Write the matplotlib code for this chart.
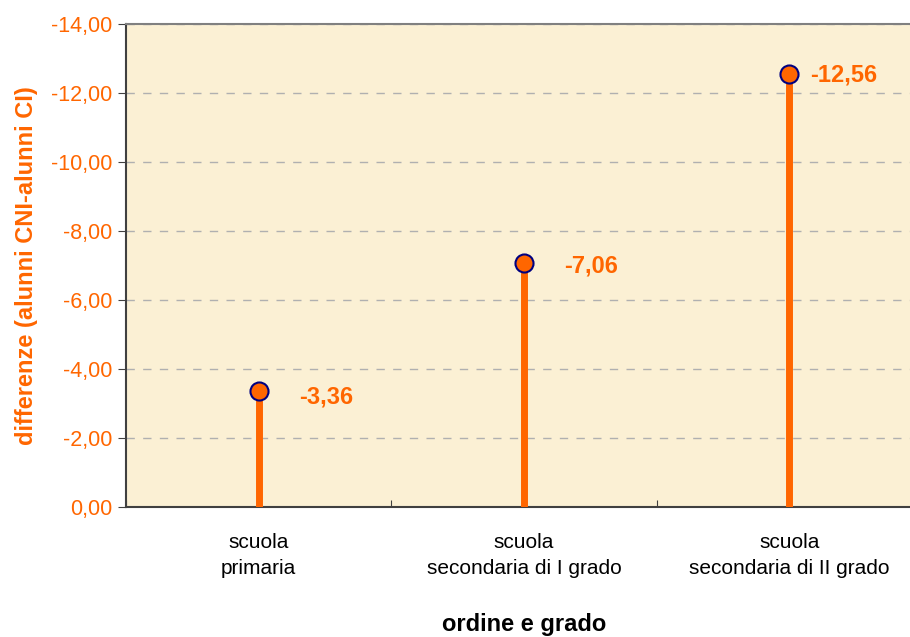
import matplotlib.pyplot as plt

plt.rcParams['font.family'] = ['Liberation Sans', 'DejaVu Sans']

# dati
categorie = ['scuola\nprimaria', 'scuola\nsecondaria di I grado', 'scuola\nsecondaria di II grado']
differenze = [-3.36, -7.06, -12.56]
etichette = ['-3,36', '-7,06', '-12,56']
yticks = [0, -2, -4, -6, -8, -10, -12, -14]

ARANCIO = '#FF6600'
BLU = '#000080'

# spostamento etichette (punti)
offs = [(29, -4), (29, -1.5), (15, -1)]

fig = plt.figure(figsize=(9.1, 6.37), dpi=100)
ax = fig.add_axes([126 / 910, 1 - 507 / 637, 796 / 910, 483 / 637])
ax.set_facecolor('#FBF0D4')

x = range(len(categorie))
ax.vlines(x, 0, differenze, color=ARANCIO, lw=5, zorder=3)
ax.plot(x, differenze, 'o', ms=13, mfc=ARANCIO, mec=BLU, mew=1.5, zorder=4)
for xi, v, t, o in zip(x, differenze, etichette, offs):
    ax.annotate(t, (xi, v), xytext=o, textcoords='offset points',
                color=ARANCIO, fontsize=17, fontweight='bold', va='center', ha='left')

ax.set_xlim(-0.5, 2.5)
ax.set_ylim(0, -14)
ax.set_yticks(yticks)
ax.set_yticklabels([('%.2f' % v).replace('.', ',') for v in yticks])
ax.tick_params(axis='y', colors='#404040', labelcolor=ARANCIO, labelsize=15.5, length=6, pad=4)
ax.yaxis.grid(True, ls=(0, (6, 6)), color='#B0B0B0', lw=1)
ax.set_axisbelow(True)

ax.set_xticks([-0.5, 0.5, 1.5, 2.5])
ax.set_xticklabels([])
ax.set_xticks(list(x), minor=True)
ax.set_xticklabels(categorie, minor=True, fontsize=15, linespacing=1.45)
ax.tick_params(axis='x', which='minor', length=0, pad=19)
ax.tick_params(axis='x', which='major', direction='in', length=5, colors='#404040')

for s in ['left', 'bottom']:
    ax.spines[s].set_color('#404040')
    ax.spines[s].set_linewidth(1.5)
ax.spines['top'].set_color('#808080')
ax.spines['top'].set_linewidth(1.5)
ax.spines['right'].set_visible(False)

ax.set_xlabel('ordine e grado', fontsize=17, fontweight='bold', labelpad=25)
ax.set_ylabel('differenze (alunni CNI-alunni CI)', fontsize=17, fontweight='bold',
              color=ARANCIO)
ax.yaxis.set_label_coords(-0.11, 0.5)

fig.savefig('out.png', dpi=100)
